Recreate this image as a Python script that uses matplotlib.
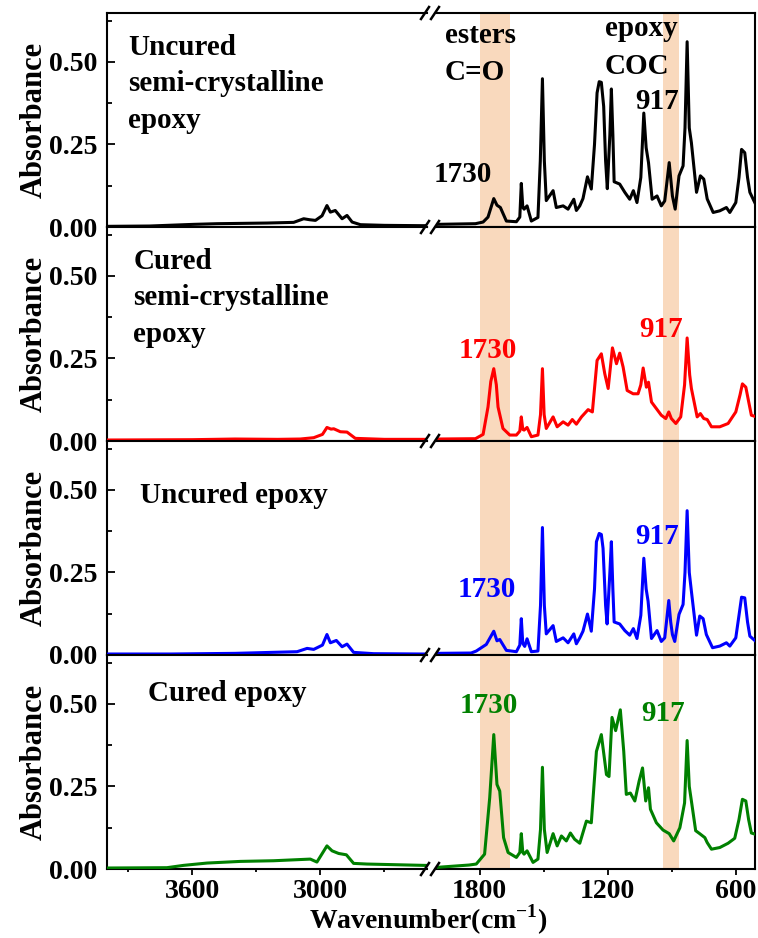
import numpy as np
import matplotlib
matplotlib.use('Agg')
import matplotlib.pyplot as plt
from matplotlib.lines import Line2D
from matplotlib.ticker import MultipleLocator, FormatStrFormatter

plt.rcParams['font.family'] = 'Liberation Serif'
plt.rcParams['font.weight'] = 'bold'
plt.rcParams['axes.labelweight'] = 'bold'
plt.rcParams['mathtext.fontset'] = 'custom'
plt.rcParams['mathtext.rm'] = 'Liberation Serif:bold'
plt.rcParams['mathtext.bf'] = 'Liberation Serif:bold'

# ---- spectra (wavenumber, absorbance) ----
wn_black = [4000, 3800, 3594, 3484, 3250, 3125, 3078, 3050, 3023, 2992, 2969, 2953, 2930, 2898, 2875, 2851, 2812, 2700, 2520,
            2000, 1820, 1784, 1761, 1734, 1719, 1703, 1675, 1628, 1612, 1605, 1598, 1592, 1578, 1558, 1527, 1516, 1506, 1497,
            1488, 1456, 1441, 1409, 1386, 1359, 1347, 1331, 1316, 1295, 1277, 1262, 1250, 1240, 1230, 1219, 1210, 1202, 1190,
            1183, 1176, 1170, 1144, 1120, 1097, 1080, 1063, 1045, 1031, 1020, 1009, 992, 969, 949, 933, 912, 897, 884, 866,
            847, 838, 828, 818, 808, 784, 766, 750, 734, 706, 675, 644, 628, 600, 585, 573, 558, 545, 534, 511]
abs_black = [0.002, 0.003, 0.008, 0.010, 0.012, 0.014, 0.025, 0.022, 0.020, 0.034, 0.065, 0.045, 0.050, 0.025, 0.035, 0.015, 0.007, 0.005, 0.004,
             0.008, 0.010, 0.015, 0.030, 0.086, 0.066, 0.059, 0.018, 0.016, 0.030, 0.132, 0.060, 0.054, 0.064, 0.018, 0.029, 0.200, 0.449, 0.200,
             0.080, 0.110, 0.059, 0.064, 0.054, 0.084, 0.050, 0.064, 0.086, 0.152, 0.115, 0.250, 0.406, 0.440, 0.438, 0.365, 0.200, 0.116, 0.280,
             0.418, 0.280, 0.137, 0.130, 0.105, 0.084, 0.110, 0.074, 0.150, 0.345, 0.240, 0.195, 0.084, 0.094, 0.064, 0.079, 0.195, 0.094, 0.054, 0.155,
             0.185, 0.300, 0.561, 0.300, 0.255, 0.105, 0.155, 0.145, 0.085, 0.044, 0.049, 0.059, 0.044, 0.074, 0.150, 0.235, 0.225, 0.150, 0.105, 0.074]

wn_red = [4000, 3600, 3400, 3200, 3094, 3031, 2990, 2969, 2950, 2937, 2906, 2875, 2836, 2700, 2520,
          2000, 1820, 1784, 1761, 1748, 1734, 1722, 1714, 1691, 1659, 1628, 1612, 1605, 1598, 1592, 1578, 1558, 1527, 1515,
          1506, 1498, 1488, 1456, 1437, 1409, 1386, 1366, 1347, 1323, 1292, 1272, 1250, 1230, 1214, 1198, 1178, 1159, 1144,
          1128, 1109, 1081, 1058, 1045, 1034, 1019, 1009, 995, 972, 949, 928, 914, 902, 881, 858, 840, 828, 816, 808, 781,
          766, 750, 734, 714, 675, 636, 600, 580, 569, 553, 540, 527, 503]
abs_red = [0.003, 0.004, 0.006, 0.005, 0.006, 0.010, 0.020, 0.041, 0.036, 0.037, 0.028, 0.027, 0.008, 0.005, 0.005,
           0.006, 0.007, 0.020, 0.103, 0.180, 0.219, 0.170, 0.103, 0.038, 0.018, 0.018, 0.030, 0.073, 0.035, 0.033, 0.041, 0.013, 0.018, 0.080,
           0.219, 0.080, 0.038, 0.073, 0.043, 0.058, 0.048, 0.065, 0.051, 0.073, 0.095, 0.088, 0.244, 0.264, 0.204, 0.159, 0.282, 0.234, 0.266,
           0.224, 0.153, 0.143, 0.143, 0.170, 0.221, 0.163, 0.178, 0.118, 0.098, 0.078, 0.068, 0.088, 0.068, 0.053, 0.073, 0.170, 0.312, 0.200, 0.159, 0.073,
           0.083, 0.068, 0.065, 0.043, 0.043, 0.053, 0.088, 0.140, 0.173, 0.163, 0.120, 0.078, 0.073]

wn_blue = [4000, 3700, 3400, 3109, 3062, 3031, 2990, 2969, 2953, 2925, 2898, 2875, 2844, 2750, 2520,
           2000, 1840, 1816, 1769, 1734, 1719, 1706, 1675, 1628, 1612, 1605, 1598, 1589, 1578, 1558, 1527, 1515, 1506, 1497,
           1488, 1456, 1441, 1409, 1386, 1359, 1347, 1331, 1316, 1295, 1277, 1262, 1253, 1240, 1230, 1222, 1210, 1203, 1190,
           1183, 1176, 1170, 1144, 1120, 1097, 1080, 1063, 1045, 1031, 1020, 1011, 995, 969, 949, 933, 914, 905, 897, 886,
           866, 847, 838, 828, 818, 808, 784, 769, 753, 738, 709, 675, 644, 628, 600, 585, 573, 558, 545, 534, 511]
abs_blue = [0.003, 0.003, 0.005, 0.010, 0.020, 0.017, 0.030, 0.062, 0.037, 0.044, 0.025, 0.033, 0.008, 0.004, 0.003,
            0.005, 0.006, 0.012, 0.032, 0.072, 0.043, 0.047, 0.014, 0.010, 0.030, 0.110, 0.035, 0.026, 0.049, 0.010, 0.012, 0.150, 0.386, 0.150,
            0.064, 0.089, 0.041, 0.052, 0.037, 0.064, 0.034, 0.052, 0.072, 0.124, 0.072, 0.200, 0.343, 0.368, 0.365, 0.323, 0.150, 0.094, 0.250,
            0.343, 0.200, 0.100, 0.094, 0.074, 0.060, 0.080, 0.050, 0.120, 0.293, 0.200, 0.163, 0.050, 0.074, 0.041, 0.052, 0.165, 0.100, 0.062, 0.041,
            0.123, 0.153, 0.250, 0.437, 0.250, 0.193, 0.060, 0.118, 0.110, 0.062, 0.022, 0.027, 0.037, 0.027, 0.052, 0.120, 0.175, 0.173, 0.100, 0.057, 0.044]

wn_green = [4000, 3719, 3641, 3531, 3375, 3219, 3047, 3016, 2969, 2945, 2914, 2878, 2844, 2781, 2516,
            2000, 1850, 1816, 1777, 1753, 1734, 1719, 1706, 1688, 1667, 1628, 1612, 1605, 1598, 1592, 1578, 1550, 1527, 1515,
            1506, 1497, 1484, 1456, 1437, 1417, 1394, 1375, 1355, 1331, 1300, 1277, 1253, 1230, 1206, 1194, 1180, 1163, 1141,
            1125, 1113, 1094, 1073, 1053, 1037, 1022, 1009, 1000, 972, 941, 912, 891, 862, 840, 828, 818, 808, 788, 769, 745,
            734, 714, 675, 636, 605, 585, 569, 553, 540, 527, 503]
abs_green = [0.003, 0.004, 0.011, 0.018, 0.023, 0.025, 0.030, 0.021, 0.070, 0.055, 0.047, 0.043, 0.017, 0.015, 0.011,
             0.005, 0.012, 0.015, 0.045, 0.216, 0.407, 0.256, 0.236, 0.095, 0.050, 0.035, 0.050, 0.107, 0.050, 0.045, 0.055, 0.020, 0.030, 0.120,
             0.308, 0.120, 0.050, 0.107, 0.070, 0.100, 0.085, 0.109, 0.090, 0.078, 0.145, 0.140, 0.356, 0.407, 0.286, 0.280, 0.459, 0.419, 0.482,
             0.356, 0.226, 0.230, 0.206, 0.266, 0.306, 0.206, 0.246, 0.181, 0.140, 0.118, 0.107, 0.085, 0.125, 0.200, 0.389, 0.250, 0.206, 0.116, 0.107, 0.095,
             0.080, 0.060, 0.065, 0.078, 0.093, 0.150, 0.211, 0.206, 0.150, 0.109, 0.104]

sample_names = ['Uncured\nsemi-crystalline\nepoxy', 'Cured\nsemi-crystalline\nepoxy', 'Uncured epoxy', 'Cured epoxy']
sample_colors = ['black', '#FF0000', '#0000FF', '#008000']
spectra = [(wn_black, abs_black), (wn_red, abs_red), (wn_blue, abs_blue), (wn_green, abs_green)]

peak_labels = ['1730', '917']
band_esters = (1800, 1659)
band_coc = (941, 866)
band_color = '#F9D9BD'

# ---- layout (pixels of the 758x938 picture) ----
W, H = 758, 938
fig = plt.figure(figsize=(W / 100, H / 100), dpi=100)
row_tops = [13, 227, 441, 655]
row_h = 214

# label positions (data coords, baseline of the last line)
name_pos = [(3900, 0.301), (3877, 0.301), (3844, 0.459), (3806, 0.510)]
p1730_pos = [(1877, 0.135), (1762, 0.252), (1767, 0.175), (1759, 0.472)]
p917_pos = [(968, 0.358), (952, 0.314), (970, 0.335), (941, 0.447)]

for i in range(4):
    b = 1 - (row_tops[i] + row_h) / H
    axl = fig.add_axes([107 / W, b, 320 / W, row_h / H])
    axr = fig.add_axes([437 / W, b, 318 / W, row_h / H])
    x, y = spectra[i]
    for ax in (axl, axr):
        ax.plot(x, y, color=sample_colors[i], lw=2.2, zorder=3, solid_joinstyle='round')
        ax.set_ylim(0, 0.648)
        for s in ax.spines.values():
            s.set_linewidth(1.5)
        ax.xaxis.set_major_locator(MultipleLocator(600))
        ax.xaxis.set_minor_locator(MultipleLocator(300))
        ax.tick_params(axis='x', which='major', direction='out', length=4, width=1.3, labelsize=20, pad=3)
        ax.tick_params(axis='x', which='minor', direction='out', length=2.5, width=1.3)
        if i < 3:
            ax.tick_params(axis='x', labelbottom=False)
    axl.set_xlim(4000, 2500)
    axr.set_xlim(2000, 510)
    axl.spines['right'].set_visible(False)
    axr.spines['left'].set_visible(False)
    axr.tick_params(axis='y', which='both', left=False, labelleft=False)
    axl.yaxis.set_major_locator(MultipleLocator(0.25))
    axl.yaxis.set_minor_locator(MultipleLocator(0.125))
    axl.yaxis.set_major_formatter(FormatStrFormatter('%.2f'))
    axl.tick_params(axis='y', which='major', direction='in', length=6, width=1.3, labelsize=20, pad=7)
    axl.tick_params(axis='y', which='minor', direction='in', length=3.5, width=1.3)
    axl.set_ylabel('Absorbance', fontsize=22, fontweight='bold')
    axl.yaxis.set_label_coords(-0.182, 0.5)

    # highlighted bands
    axr.axvspan(band_esters[0], band_esters[1], color=band_color, lw=0, zorder=1)
    axr.axvspan(band_coc[0], band_coc[1], color=band_color, lw=0, zorder=1)

    # texts
    axl.text(name_pos[i][0], name_pos[i][1], sample_names[i], fontsize=21, ha='left', va='baseline',
             linespacing=1.45, color='black')
    axr.text(p1730_pos[i][0], p1730_pos[i][1], peak_labels[0], fontsize=21, ha='center', va='baseline',
             color=sample_colors[i])
    axr.text(p917_pos[i][0], p917_pos[i][1], peak_labels[1], fontsize=21, ha='center', va='baseline',
             color=sample_colors[i])
    if i == 0:
        axr.text(1964, 0.446, 'esters\nC=O', fontsize=21, ha='left', va='baseline', linespacing=1.45)
        axr.text(1214, 0.464, 'epoxy\nCOC', fontsize=21, ha='left', va='baseline', linespacing=1.5)

# axis break marks
for yb in row_tops + [row_tops[-1] + row_h]:
    for x0 in (421, 431):
        fig.add_artist(Line2D([x0 / W, (x0 + 8) / W], [1 - (yb + 6) / H, 1 - (yb - 6) / H],
                              color='black', lw=1.8, transform=fig.transFigure))

fig.text(428 / W, 1 - 920 / H, 'Wavenumber(cm$^{\\mathbf{-1}}$)', fontsize=20, ha='center', va='center')

plt.savefig('out.png', dpi=100)
